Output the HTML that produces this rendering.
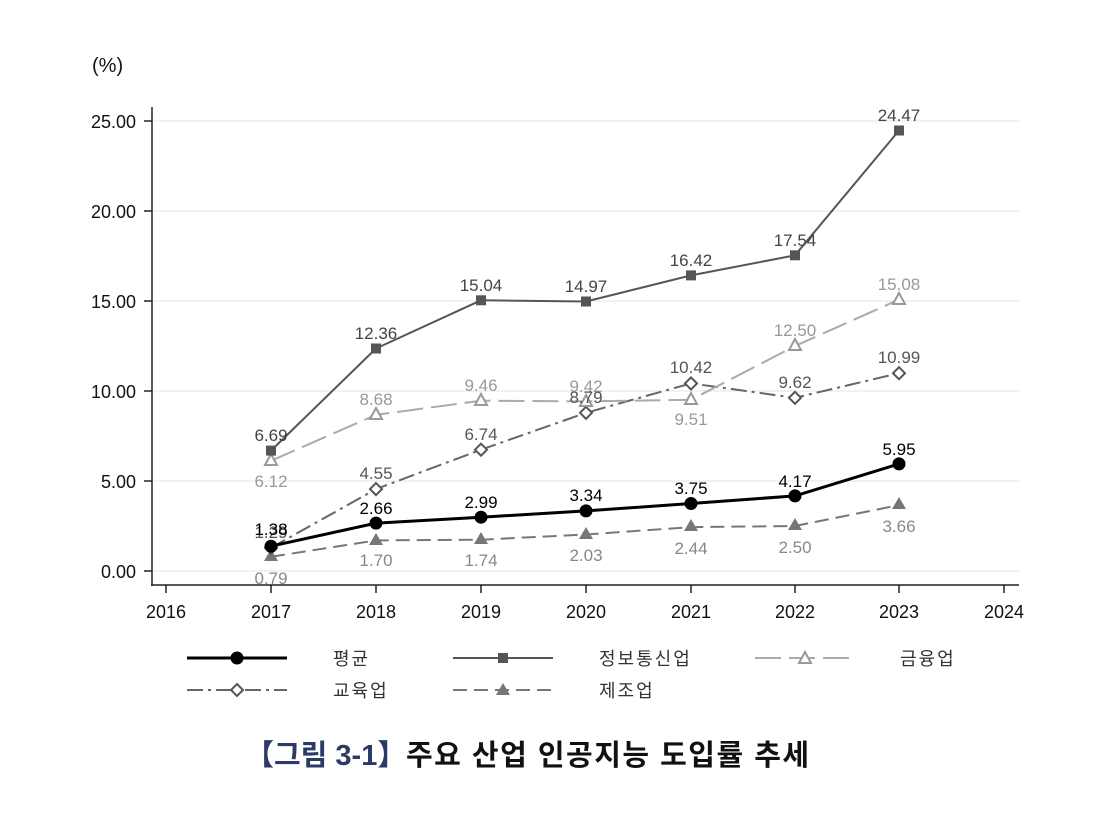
<!DOCTYPE html>
<html><head><meta charset="utf-8"><style>
body{margin:0;background:#fff;}
svg text{font-family:"Liberation Sans","Noto Sans CJK KR",sans-serif;}
</style></head><body>
<svg width="1107" height="815" xmlns="http://www.w3.org/2000/svg">
<rect width="1107" height="815" fill="#fff"/>
<text x="92" y="72" font-size="20" fill="#111">(%)</text>
<g stroke="#e6e6e6" stroke-width="1">
<line x1="152" x2="1019" y1="571" y2="571"/><line x1="152" x2="1019" y1="481" y2="481"/>
<line x1="152" x2="1019" y1="391" y2="391"/><line x1="152" x2="1019" y1="301" y2="301"/>
<line x1="152" x2="1019" y1="211" y2="211"/><line x1="152" x2="1019" y1="121" y2="121"/>
</g>
<g stroke="#222" stroke-width="1.5">
<line x1="152" y1="107" x2="152" y2="586"/><line x1="151" y1="585" x2="1019" y2="585"/>
<line x1="144" x2="152" y1="571" y2="571"/><line x1="144" x2="152" y1="481" y2="481"/>
<line x1="144" x2="152" y1="391" y2="391"/><line x1="144" x2="152" y1="301" y2="301"/>
<line x1="144" x2="152" y1="211" y2="211"/><line x1="144" x2="152" y1="121" y2="121"/>
<line x1="166" x2="166" y1="585" y2="593"/><line x1="271" x2="271" y1="585" y2="593"/>
<line x1="376" x2="376" y1="585" y2="593"/><line x1="481" x2="481" y1="585" y2="593"/>
<line x1="586" x2="586" y1="585" y2="593"/><line x1="691" x2="691" y1="585" y2="593"/>
<line x1="795" x2="795" y1="585" y2="593"/><line x1="899" x2="899" y1="585" y2="593"/>
<line x1="1004" x2="1004" y1="585" y2="593"/>
</g>
<g font-size="18" fill="#111" text-anchor="end">
<text x="136" y="578">0.00</text><text x="136" y="488">5.00</text><text x="136" y="398">10.00</text>
<text x="136" y="308">15.00</text><text x="136" y="218">20.00</text><text x="136" y="128">25.00</text>
</g>
<g font-size="18" fill="#111" text-anchor="middle">
<text x="166" y="618">2016</text><text x="271" y="618">2017</text><text x="376" y="618">2018</text>
<text x="481" y="618">2019</text><text x="586" y="618">2020</text><text x="691" y="618">2021</text>
<text x="795" y="618">2022</text><text x="899" y="618">2023</text><text x="1004" y="618">2024</text>
</g>
<polyline fill="none" stroke="#777" stroke-width="2" stroke-dasharray="14,7" points="271,556.8 376,540.4 481,539.7 586,534.5 691,527.1 795,526 899,505.1"/>
<g fill="#777">
<polygon points="271,549 264,561 278,561"/><polygon points="376,533 369,545 383,545"/><polygon points="481,532 474,544 488,544"/>
<polygon points="586,527 579,539 593,539"/><polygon points="691,519 684,531 698,531"/><polygon points="795,518 788,530 802,530"/><polygon points="899,497 892,509 906,509"/>
</g>
<polyline fill="none" stroke="#666" stroke-width="2" stroke-dasharray="16,5,3,5" points="271,547.8 376,489.1 481,449.7 586,412.8 691,383.4 795,397.8 899,373.2"/>
<g fill="#fff" stroke="#555" stroke-width="2">
<polygon points="271,541.8 277,547.8 271,553.8 265,547.8"/><polygon points="376,483.1 382,489.1 376,495.1 370,489.1"/>
<polygon points="481,443.7 487,449.7 481,455.7 475,449.7"/><polygon points="586,406.8 592,412.8 586,418.8 580,412.8"/>
<polygon points="691,377.4 697,383.4 691,389.4 685,383.4"/><polygon points="795,391.8 801,397.8 795,403.8 789,397.8"/>
<polygon points="899,367.2 905,373.2 899,379.2 893,373.2"/>
</g>
<polyline fill="none" stroke="#aaa" stroke-width="2" stroke-dasharray="26,8" points="271,460.8 376,414.8 481,400.7 586,401.4 691,399.8 795,346 899,299.6"/>
<g fill="#fff" stroke="#999" stroke-width="2">
<polygon points="271,454 265,465 277,465"/><polygon points="376,408 370,419 382,419"/><polygon points="481,394 475,405 487,405"/>
<polygon points="586,395 580,406 592,406"/><polygon points="691,393 685,404 697,404"/><polygon points="795,339 789,350 801,350"/><polygon points="899,293 893,304 905,304"/>
</g>
<polyline fill="none" stroke="#555" stroke-width="2" points="271,450.6 376,348.5 481,300.3 586,301.5 691,275.4 795,255.3 899,130.5"/>
<g fill="#555">
<rect x="266" y="445.6" width="10" height="10"/><rect x="371" y="343.5" width="10" height="10"/><rect x="476" y="295.3" width="10" height="10"/>
<rect x="581" y="296.5" width="10" height="10"/><rect x="686" y="270.4" width="10" height="10"/><rect x="790" y="250.3" width="10" height="10"/><rect x="894" y="125.5" width="10" height="10"/>
</g>
<polyline fill="none" stroke="#000" stroke-width="3" points="271,546.2 376,523.1 481,517.2 586,510.9 691,503.5 795,495.9 899,463.9"/>
<g fill="#000">
<circle cx="271" cy="546.2" r="6.5"/><circle cx="376" cy="523.1" r="6.5"/><circle cx="481" cy="517.2" r="6.5"/><circle cx="586" cy="510.9" r="6.5"/>
<circle cx="691" cy="503.5" r="6.5"/><circle cx="795" cy="495.9" r="6.5"/><circle cx="899" cy="463.9" r="6.5"/>
</g>
<g font-size="17" text-anchor="middle">
<g fill="#444">
<text x="271" y="441">6.69</text><text x="376" y="339">12.36</text><text x="481" y="291">15.04</text><text x="586" y="292">14.97</text>
<text x="691" y="266">16.42</text><text x="795" y="246">17.54</text><text x="899" y="121">24.47</text>
</g>
<g fill="#999">
<text x="271" y="487">6.12</text><text x="376" y="405">8.68</text><text x="481" y="391">9.46</text><text x="586" y="392">9.42</text>
<text x="691" y="425">9.51</text><text x="795" y="336">12.50</text><text x="899" y="290">15.08</text>
</g>
<g fill="#555">
<text x="271" y="538">1.29</text><text x="376" y="479">4.55</text><text x="481" y="440">6.74</text><text x="586" y="403">8.79</text>
<text x="691" y="373">10.42</text><text x="795" y="388">9.62</text><text x="899" y="363">10.99</text>
</g>
<g fill="#888">
<text x="271" y="584">0.79</text><text x="376" y="566">1.70</text><text x="481" y="566">1.74</text><text x="586" y="561">2.03</text>
<text x="691" y="554">2.44</text><text x="795" y="553">2.50</text><text x="899" y="532">3.66</text>
</g>
<g fill="#000">
<text x="271" y="535">1.38</text><text x="376" y="514">2.66</text><text x="481" y="508">2.99</text><text x="586" y="501">3.34</text>
<text x="691" y="494">3.75</text><text x="795" y="487">4.17</text><text x="899" y="455">5.95</text>
</g>
</g>
<line x1="187" x2="287" y1="658" y2="658" stroke="#000" stroke-width="3"/><circle cx="237" cy="658" r="6.5" fill="#000"/>
<text x="333" y="665" font-size="18" fill="#333" letter-spacing="2">평균</text>
<line x1="453" x2="553" y1="658" y2="658" stroke="#555" stroke-width="2"/><rect x="498" y="653" width="10" height="10" fill="#555"/>
<text x="599" y="665" font-size="18" fill="#333" letter-spacing="2">정보통신업</text>
<line x1="755" x2="855" y1="658" y2="658" stroke="#aaa" stroke-width="2" stroke-dasharray="26,8"/><polygon points="805,652 799,663 811,663" fill="#fff" stroke="#999" stroke-width="2"/>
<text x="900" y="665" font-size="18" fill="#333" letter-spacing="2">금융업</text>
<line x1="187" x2="287" y1="690" y2="690" stroke="#666" stroke-width="2" stroke-dasharray="16,5,3,5"/><polygon points="237,684 243,690 237,696 231,690" fill="#fff" stroke="#555" stroke-width="2"/>
<text x="333" y="697" font-size="18" fill="#333" letter-spacing="2">교육업</text>
<line x1="453" x2="553" y1="690" y2="690" stroke="#777" stroke-width="2" stroke-dasharray="14,7"/><polygon points="503,683 496,695 510,695" fill="#777"/>
<text x="599" y="697" font-size="18" fill="#333" letter-spacing="2">제조업</text>
<text x="245" y="765" font-size="29" font-weight="bold" fill="#2b3a66">【그림 3-1】</text>
<text x="406" y="765" font-size="29" font-weight="bold" fill="#111" letter-spacing="1.5">주요 산업 인공지능 도입률 추세</text>
</svg>
</body></html>
